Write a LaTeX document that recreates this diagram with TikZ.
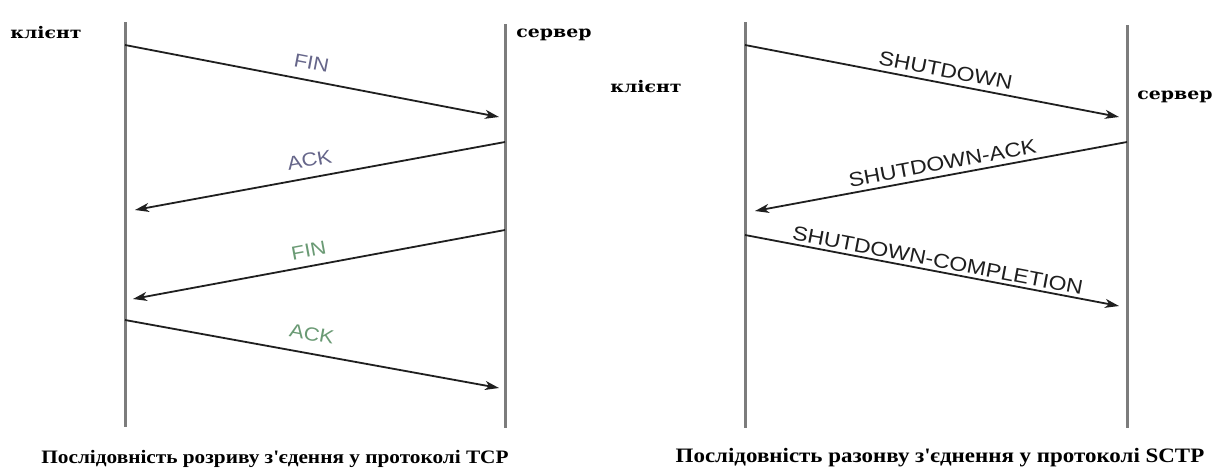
\documentclass[tikz,border=0pt]{standalone}
\usepackage{fontspec}
\setmainfont{Liberation Serif}
\newfontfamily\capfont[FakeStretch=1.12]{Liberation Serif}
\newfontfamily\actorfont[FakeStretch=1.18]{DejaVu Serif}
\newfontfamily\msgfont[FakeStretch=1.15]{Liberation Sans}
\usetikzlibrary{arrows.meta}
\definecolor{lifegray}{HTML}{7C7C7C}
\definecolor{msgblue}{HTML}{66668A}
\definecolor{msggreen}{HTML}{6A9A74}
\definecolor{msgdark}{HTML}{1E1E1E}
\tikzset{
  lifeline/.style={draw=lifegray, line width=3pt},
  msg/.style={draw=black!88, line width=1.8pt, -{Stealth[length=14pt,width=9pt,inset=4pt]}},
  msglabel/.style={font=\msgfont\fontsize{19}{19}\selectfont, sloped, inner sep=2pt},
  biglabel/.style={font=\msgfont\fontsize{20}{20}\selectfont, sloped, inner sep=2pt},
  actor/.style={font=\actorfont\bfseries\fontsize{16}{16}\selectfont, inner sep=0pt},
  caption/.style={font=\capfont\bfseries\fontsize{19}{19}\selectfont, inner sep=0pt}
}
\begin{document}
\begin{tikzpicture}[x=1pt,y=-1pt]
\useasboundingbox[fill=white] (0,0) rectangle (1216,474);
% left diagram
\coordinate (lc1) at (125,22); \coordinate (lc2) at (125,427);
\coordinate (ls1) at (505,24); \coordinate (ls2) at (505,428);
\draw[lifeline] (lc1) -- (lc2);
\draw[lifeline] (ls1) -- (ls2);
\node[actor] (lclient) at (46,33) {клієнт};
\node[actor] (lserver) at (554,35) {сервер};
\coordinate (a1s) at (125,45);  \coordinate (a1e) at (499,117);
\coordinate (a2s) at (505,142); \coordinate (a2e) at (135,210);
\coordinate (a3s) at (505,230); \coordinate (a3e) at (133,299);
\coordinate (a4s) at (125,320); \coordinate (a4e) at (499,388);
\draw[msg] (a1s) -- node[msglabel, above=8pt, pos=0.49, text=msgblue] (l1) {FIN} (a1e);
\draw[msg] (a2s) -- node[msglabel, above=8pt, pos=0.52, text=msgblue] (l2) {ACK} (a2e);
\draw[msg] (a3s) -- node[msglabel, above=6pt, pos=0.52, text=msggreen] (l3) {FIN} (a3e);
\draw[msg] (a4s) -- node[msglabel, above=10pt, pos=0.49, text=msggreen] (l4) {ACK} (a4e);
\node[caption] (capl) at (275,459) {Послідовність розриву з\textquotesingle єдення у протоколі TCP};
% right diagram
\coordinate (rc1) at (745,22); \coordinate (rc2) at (745,428);
\coordinate (rs1) at (1127,25); \coordinate (rs2) at (1127,428);
\draw[lifeline] (rc1) -- (rc2);
\draw[lifeline] (rs1) -- (rs2);
\node[actor] (rclient) at (646,87) {клієнт};
\node[actor] (rserver) at (1175,97) {сервер};
\coordinate (b1s) at (745,45);  \coordinate (b1e) at (1119,117);
\coordinate (b2s) at (1127,142); \coordinate (b2e) at (755,211);
\coordinate (b3s) at (745,235); \coordinate (b3e) at (1119,306);
\draw[msg] (b1s) -- node[biglabel, above=3pt, pos=0.53, text=msgdark] (m1) {SHUTDOWN} (b1e);
\draw[msg] (b2s) -- node[biglabel, above=3pt, pos=0.49, text=msgdark] (m2) {SHUTDOWN-ACK} (b2e);
\draw[msg] (b3s) -- node[biglabel, above=1pt, pos=0.51, text=msgdark] (m3) {SHUTDOWN-COMPLETION} (b3e);
\node[caption, font=\capfont\bfseries\fontsize{20.5}{20.5}\selectfont] (capr) at (940,458) {Послідовність разонву з\textquotesingle єднення у протоколі SCTP};
\end{tikzpicture}
\end{document}
